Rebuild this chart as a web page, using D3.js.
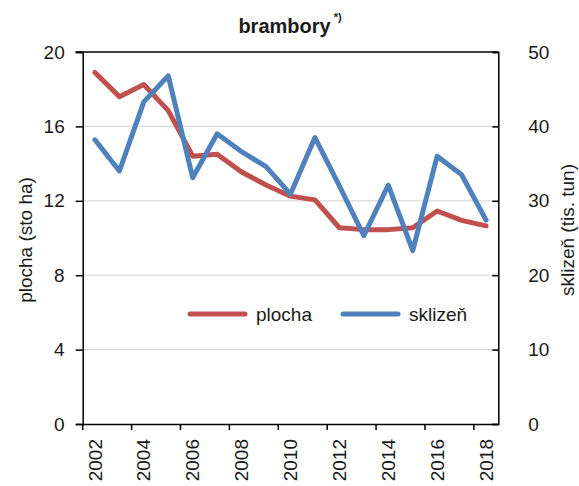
<!DOCTYPE html>
<html>
<head>
<meta charset="utf-8">
<script src="https://d3js.org/d3.v7.min.js"></script>
<style>
  body { margin: 0; background: #fff; }
  text { font-family: "Liberation Sans", Arial, sans-serif; fill: #1a1a1a; }
</style>
</head>
<body>
<svg id="svg" width="579" height="486"></svg>
<script>

// data
var years = ["2002","2003","2004","2005","2006","2007","2008","2009","2010","2011","2012","2013","2014","2015","2016","2017","2018"];
var plocha = [18.9, 17.6, 18.25, 16.85, 14.4, 14.5, 13.55, 12.85, 12.25, 12.05, 10.55, 10.45, 10.45, 10.55, 11.45, 10.95, 10.65];
var sklizen = [38.2, 34.0, 43.3, 46.8, 33.1, 39.0, 36.6, 34.6, 30.9, 38.5, 32.0, 25.3, 32.1, 23.3, 36.0, 33.5, 27.4];
var leftTicks = [0, 4, 8, 12, 16, 20];
var rightTicks = [0, 10, 20, 30, 40, 50];

var svg = d3.select("#svg");

// plot box (note: "top" is reserved on window, so use other names)
var pLeft = 82.7, pRight = 498.3, pTop = 52, pBottom = 424;

var x = d3.scaleBand().domain(years).range([pLeft, pRight]);
var yL = d3.scaleLinear().domain([0, 20]).range([pBottom, pTop]);
var yR = d3.scaleLinear().domain([0, 50]).range([pBottom, pTop]);

// gridlines
svg.append("g")
  .selectAll("line")
  .data(leftTicks.filter(function(d) { return d > 0 && d < 20; }))
  .enter()
  .append("line")
    .attr("x1", pLeft).attr("x2", pRight)
    .attr("y1", function(d) { return yL(d); })
    .attr("y2", function(d) { return yL(d); })
    .attr("stroke", "#d9d9d9")
    .attr("stroke-width", 1.2);

// left axis
var gL = svg.append("g").attr("transform", "translate(" + pLeft + ",0)")
  .call(d3.axisLeft(yL).tickValues(leftTicks).tickSize(7).tickPadding(11));
// right axis (ticks inward)
var gR = svg.append("g").attr("transform", "translate(" + pRight + ",0)")
  .call(d3.axisRight(yR).tickValues(rightTicks).tickSize(-6).tickPadding(30));
// bottom axis, ticks on category boundaries every 2 years
var gB = svg.append("g").attr("transform", "translate(0," + pBottom + ")")
  .call(d3.axisBottom(x).tickSize(0).tickPadding(10));

[gL, gR, gB].forEach(function(g) {
  g.select(".domain").attr("stroke", "#000").attr("stroke-width", 1.5);
  g.selectAll(".tick line").attr("stroke", "#000").attr("stroke-width", 1.5);
  g.selectAll("text").attr("font-size", 19).attr("fill", "#1a1a1a")
    .style("font-family", "Liberation Sans, Arial, sans-serif");
});

gB.selectAll(".tick text")
  .attr("transform", "rotate(-90)")
  .attr("text-anchor", "end")
  .attr("dy", "0.35em")
  .attr("x", -15).attr("y", 0)
  .text(function(d, i) { return i % 2 === 0 ? d : ""; });

svg.append("g")
  .selectAll("line")
  .data(years.filter(function(d, i) { return i % 2 === 0; }))
  .enter()
  .append("line")
    .attr("x1", function(d) { return x(d); })
    .attr("x2", function(d) { return x(d); })
    .attr("y1", pBottom).attr("y2", pBottom + 6)
    .attr("stroke", "#000").attr("stroke-width", 1.5);

// top border
svg.append("line")
  .attr("x1", pLeft - 7).attr("x2", pRight)
  .attr("y1", pTop).attr("y2", pTop)
  .attr("stroke", "#000").attr("stroke-width", 1.5);

// lines
var lineL = d3.line()
  .x(function(d, i) { return x(years[i]) + x.bandwidth() / 2; })
  .y(function(d) { return yL(d); });
var lineR = d3.line()
  .x(function(d, i) { return x(years[i]) + x.bandwidth() / 2; })
  .y(function(d) { return yR(d); });

svg.append("path").datum(plocha)
  .attr("d", lineL)
  .attr("fill", "none").attr("stroke", "#c0504d").attr("stroke-width", 5)
  .attr("stroke-linejoin", "round").attr("stroke-linecap", "round");
svg.append("path").datum(sklizen)
  .attr("d", lineR)
  .attr("fill", "none").attr("stroke", "#4f81bd").attr("stroke-width", 5)
  .attr("stroke-linejoin", "round").attr("stroke-linecap", "round");

// legend
var legend = [
  {name: "plocha", color: "#c0504d", x: 190},
  {name: "sklizeň", color: "#4f81bd", x: 343}
];
legend.forEach(function(l) {
  svg.append("line")
    .attr("x1", l.x).attr("x2", l.x + 55)
    .attr("y1", 314).attr("y2", 314)
    .attr("stroke", l.color).attr("stroke-width", 5).attr("stroke-linecap", "round");
  svg.append("text")
    .attr("x", l.x + 66).attr("y", 321)
    .attr("font-size", 19)
    .text(l.name);
});

// titles
var title = svg.append("text")
  .attr("x", 290).attr("y", 33)
  .attr("text-anchor", "middle")
  .attr("font-size", 20).attr("font-weight", "bold");
title.append("tspan").text("brambory");
title.append("tspan").attr("font-size", 11).attr("dy", -12).attr("dx", 3).text("*)");

svg.append("text")
  .attr("transform", "translate(32,240) rotate(-90)")
  .attr("text-anchor", "middle")
  .attr("font-size", 19)
  .text("plocha (sto ha)");

svg.append("text")
  .attr("transform", "translate(574,230) rotate(-90)")
  .attr("text-anchor", "middle")
  .attr("font-size", 19)
  .text("sklizeň (tis. tun)");

</script>
</body>
</html>
